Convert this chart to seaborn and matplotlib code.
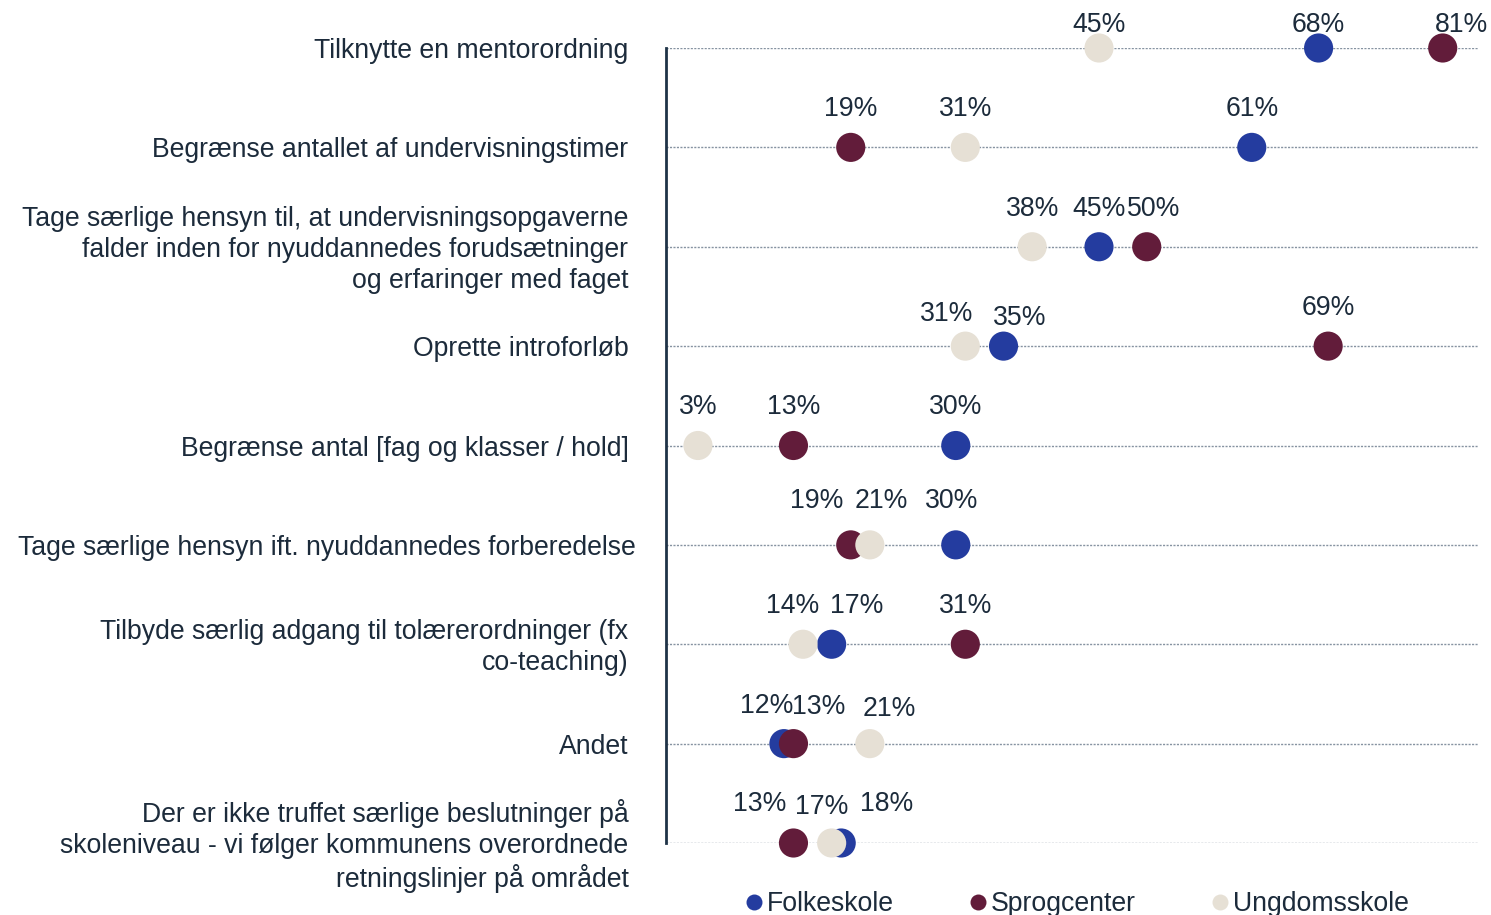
import numpy as np
import pandas as pd
import matplotlib
matplotlib.use("Agg")
import matplotlib.pyplot as plt
import matplotlib.transforms as mtransforms
import seaborn as sns

categories = [
    "Tilknytte en mentorordning",
    "Begrænse antallet af undervisningstimer",
    "Tage særlige hensyn til, at undervisningsopgaverne\nfalder inden for nyuddannedes forudsætninger\nog erfaringer med faget",
    "Oprette introforløb",
    "Begrænse antal [fag og klasser / hold]",
    "Tage særlige hensyn ift. nyuddannedes forberedelse",
    "Tilbyde særlig adgang til tolærerordninger (fx\nco-teaching)",
    "Andet",
    "Der er ikke truffet særlige beslutninger på\nskoleniveau - vi følger kommunens overordnede\nretningslinjer på området",
]
series = ["Folkeskole", "Sprogcenter", "Ungdomsskole"]
folkeskole = [68, 61, 45, 35, 30, 30, 17, 12, 18]
sprogcenter = [81, 19, 50, 69, 13, 19, 31, 13, 13]
ungdomsskole = [45, 31, 38, 31, 3, 21, 14, 21, 17]

colors = {"Folkeskole": "#243c9f", "Sprogcenter": "#621c3a", "Ungdomsskole": "#e6e0d5"}
text_color = "#1c2b3b"
fs = 19.2

# label nudges in pixels (dx, dy) for crowded rows, keyed by (row, series)
nudge = {
    (0, "Folkeskole"): (0, -15),
    (0, "Ungdomsskole"): (0, -15),
    (0, "Sprogcenter"): (19, -15),
    (2, "Sprogcenter"): (7, 0),
    (3, "Ungdomsskole"): (-19, -6),
    (3, "Folkeskole"): (16, -10),
    (5, "Sprogcenter"): (-34, 6),
    (5, "Ungdomsskole"): (11, 6),
    (5, "Folkeskole"): (-4, 6),
    (6, "Ungdomsskole"): (-10, 0),
    (6, "Folkeskole"): (25, 0),
    (7, "Folkeskole"): (-17, 0),
    (7, "Sprogcenter"): (25, -1),
    (7, "Ungdomsskole"): (19, -3),
    (8, "Sprogcenter"): (-34, 1),
    (8, "Ungdomsskole"): (-10, -2),
    (8, "Folkeskole"): (45, 1),
}

df = pd.DataFrame({
    "row": np.tile(np.arange(len(categories)), 3),
    "value": folkeskole + sprogcenter + ungdomsskole,
    "serie": np.repeat(series, len(categories)),
})

sns.set_theme(style="white")
plt.rcParams["font.family"] = ["Liberation Sans", "DejaVu Sans"]

fig = plt.figure(figsize=(14.91, 9.15), dpi=100)
ax = fig.add_axes([666 / 1491, 1 - 843 / 915, (1479 - 666) / 1491, (843 - 48) / 915])

# dotted guide per category
for r in range(len(categories)):
    ax.axhline(r, color="#8693a1", lw=1.0, ls=(0, (1.5, 1)), zorder=0)

sns.scatterplot(data=df, x="value", y="row", hue="serie", hue_order=series,
                palette=colors, s=440, linewidth=0, ax=ax, legend=False,
                clip_on=False, zorder=3)

for _, rec in df.iterrows():
    dx, dy = nudge.get((rec["row"], rec["serie"]), (0, 0))
    ax.annotate(f"{rec['value']}%", (rec["value"], rec["row"]),
                xytext=(dx, 38 + dy), textcoords="offset pixels",
                ha="center", va="center", fontsize=fs, color=text_color,
                annotation_clip=False)

ax.set_xlim(-0.35, 84.8)
ax.set_ylim(len(categories) - 1, 0)
ax.set_yticks(range(len(categories)))
ax.set_yticklabels(categories, fontsize=fs, color=text_color, ha="right",
                   va="center", multialignment="right", linespacing=1.25)
ax.tick_params(axis="y", length=0, pad=27)
for i, lab in enumerate(ax.get_yticklabels()):
    shift_x = 7 / 100 if i == 5 else 0
    lab.set_transform(lab.get_transform() +
                      mtransforms.ScaledTranslation(shift_x, -3 / 100, fig.dpi_scale_trans))
ax.set_xticks([])
ax.set_xlabel("")
ax.set_ylabel("")
for side in ["top", "right", "bottom"]:
    ax.spines[side].set_visible(False)
ax.spines["left"].set_color("#1f3347")
ax.spines["left"].set_linewidth(2)

handles = [plt.Line2D([], [], ls="", marker="o", markersize=11.5,
                      markerfacecolor=colors[s], markeredgewidth=0) for s in series]
leg = fig.legend(handles, series, loc="center", bbox_to_anchor=(0.722, 0.012),
                 ncol=3, frameon=False, fontsize=19.2, handlelength=0.75,
                 handletextpad=0.1, columnspacing=2.78, borderpad=0)
for t in leg.get_texts():
    t.set_color(text_color)

fig.savefig("out.png", dpi=100)
